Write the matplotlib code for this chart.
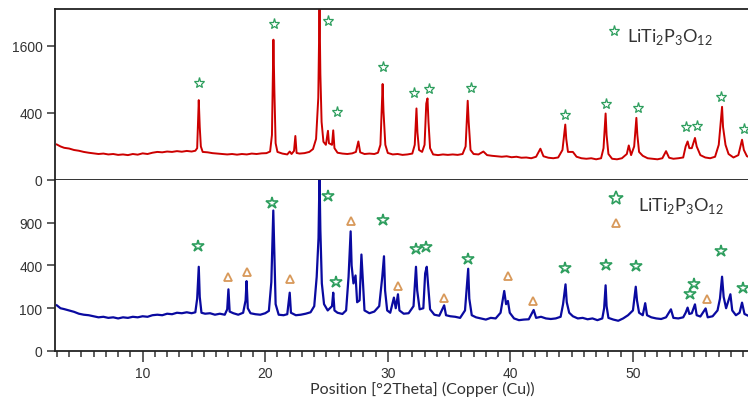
import numpy as np
import matplotlib
matplotlib.use("Agg")
import matplotlib.pyplot as plt
from matplotlib.ticker import MultipleLocator

# top pattern (red), 2theta / counts
top_x = [3.0, 3.3, 3.6, 4.0, 4.4, 4.8, 5.2, 5.6, 6.0, 6.4, 6.8, 7.2, 7.6, 8.0, 8.4, 8.8, 9.2, 9.6,
         10.0, 10.4, 10.8, 11.2, 11.6, 12.0, 12.4, 12.8, 13.2, 13.6, 14.0, 14.3, 14.45, 14.58, 14.66,
         14.75, 14.9, 15.3, 15.7, 16.1, 16.5, 16.9, 17.3, 17.7, 18.1, 18.5, 18.9, 19.3, 19.7, 20.1,
         20.4, 20.55, 20.67, 20.75, 20.85, 21.0, 21.4, 21.8, 22.0, 22.15, 22.35, 22.46, 22.56, 22.8,
         23.2, 23.6, 23.9, 24.15, 24.33, 24.43, 24.5, 24.6, 24.75, 24.95, 25.12, 25.2, 25.45, 25.55,
         25.65, 25.9, 26.3, 26.7, 27.1, 27.4, 27.6, 27.75, 28.1, 28.5, 28.9, 29.2, 29.4, 29.58, 29.65,
         29.8, 30.0, 30.4, 30.8, 31.2, 31.6, 32.0, 32.2, 32.34, 32.42, 32.55, 32.8, 33.0, 33.14, 33.24,
         33.32, 33.45, 33.7, 34.1, 34.5, 34.9, 35.3, 35.7, 36.1, 36.35, 36.52, 36.6, 36.75, 37.0, 37.4,
         37.8, 38.1, 38.5, 38.9, 39.3, 39.7, 40.1, 40.5, 40.9, 41.3, 41.7, 42.1, 42.45, 42.7, 43.1,
         43.5, 43.9, 44.25, 44.48, 44.56, 44.7, 45.1, 45.4, 45.8, 46.2, 46.6, 47.0, 47.4, 47.6, 47.77,
         47.85, 48.0, 48.3, 48.7, 49.1, 49.5, 49.66, 49.85, 50.1, 50.28, 50.36, 50.5, 50.8, 51.2, 51.6,
         52.0, 52.4, 52.7, 52.95, 53.3, 53.7, 54.1, 54.3, 54.46, 54.6, 54.8, 55.06, 55.2, 55.5, 55.9,
         56.3, 56.7, 57.0, 57.27, 57.35, 57.55, 57.8, 58.2, 58.6, 58.9, 59.05, 59.3, 59.6]
top_y = [112, 100, 92, 88, 80, 76, 70, 66, 63, 60, 62, 58, 60, 56, 58, 55, 60, 57,
         63, 60, 66, 70, 68, 72, 70, 74, 71, 75, 72, 76, 90, 567, 250,
         100, 70, 68, 64, 62, 60, 58, 60, 57, 60, 58, 62, 60, 63, 64,
         72, 180, 1750, 700, 120, 70, 62, 58, 72, 60, 75, 172, 65, 62,
         64, 70, 85, 150, 600, 2700, 1000, 300, 130, 110, 215, 120, 110, 219,
         90, 66, 62, 60, 63, 70, 132, 68, 60, 62, 60, 66, 110, 819, 420,
         110, 65, 58, 60, 56, 58, 62, 110, 455, 200, 80, 70, 110, 520, 592,
         300, 90, 58, 55, 58, 56, 58, 56, 60, 100, 558, 300, 80, 60, 58,
         72, 55, 52, 50, 48, 50, 46, 48, 44, 45, 42, 48, 87, 50, 44,
         42, 45, 80, 273, 150, 70, 70, 48, 42, 40, 42, 38, 42, 90, 393,
         180, 60, 40, 38, 42, 60, 106, 55, 100, 343, 180, 70, 52, 42, 40,
         38, 42, 74, 44, 40, 42, 45, 100, 132, 90, 90, 157, 100, 55, 45,
         42, 48, 110, 476, 250, 110, 60, 45, 55, 144, 80, 50, 45]

# bottom pattern (blue)
bot_x = [3.0, 3.3, 3.6, 4.0, 4.4, 4.8, 5.2, 5.6, 6.0, 6.4, 6.8, 7.2, 7.6, 8.0, 8.4, 8.8, 9.2, 9.6,
         10.0, 10.4, 10.8, 11.2, 11.6, 12.0, 12.4, 12.8, 13.2, 13.6, 14.0, 14.3, 14.45, 14.58, 14.66,
         14.8, 15.1, 15.5, 15.9, 16.3, 16.7, 16.9, 17.0, 17.1, 17.4, 17.8, 18.2, 18.4, 18.48, 18.58,
         18.8, 19.2, 19.6, 20.0, 20.3, 20.5, 20.66, 20.75, 20.85, 21.1, 21.5, 21.8, 22.0, 22.1, 22.5,
         22.9, 23.3, 23.7, 24.0, 24.2, 24.35, 24.43, 24.5, 24.62, 24.8, 25.1, 25.45, 25.55, 25.65,
         25.9, 26.3, 26.6, 26.8, 26.97, 27.05, 27.2, 27.37, 27.5, 27.7, 27.85, 27.95, 28.1, 28.5,
         28.9, 29.3, 29.55, 29.69, 29.78, 29.95, 30.2, 30.5, 30.65, 30.83, 30.95, 31.3, 31.7, 32.1,
         32.3, 32.4, 32.6, 32.9, 33.05, 33.18, 33.28, 33.45, 33.8, 34.2, 34.6, 34.75, 35.1, 35.5,
         35.9, 36.3, 36.56, 36.65, 36.85, 37.2, 37.6, 38.0, 38.4, 38.8, 39.2, 39.5, 39.65, 39.8,
         39.95, 40.3, 40.7, 41.1, 41.5, 41.9, 42.1, 42.5, 42.9, 43.3, 43.7, 44.1, 44.3, 44.5, 44.6,
         44.8, 45.1, 45.5, 45.9, 46.3, 46.7, 47.1, 47.5, 47.65, 47.77, 47.85, 48.0, 48.4, 48.8, 49.2,
         49.6, 50.0, 50.23, 50.33, 50.5, 50.8, 51.0, 51.15, 51.5, 51.9, 52.3, 52.7, 53.1, 53.3, 53.7,
         54.1, 54.3, 54.46, 54.6, 54.8, 55.06, 55.2, 55.5, 55.93, 56.1, 56.5, 56.9, 57.1, 57.27,
         57.4, 57.6, 57.95, 58.1, 58.4, 58.7, 58.9, 59.1, 59.4, 59.6]
bot_y = [114, 100, 96, 90, 84, 76, 72, 70, 66, 62, 64, 60, 62, 58, 62, 60, 64, 62,
         66, 64, 70, 72, 70, 76, 74, 80, 78, 82, 78, 82, 150, 388, 160,
         80, 76, 78, 72, 76, 72, 95, 208, 85, 78, 72, 80, 140, 267, 100,
         78, 74, 72, 78, 88, 260, 1080, 500, 120, 72, 70, 74, 186, 80, 70,
         72, 76, 82, 110, 300, 700, 1700, 800, 250, 120, 90, 110, 186, 90,
         80, 75, 90, 300, 783, 400, 250, 312, 130, 140, 509, 300, 90, 78,
         85, 110, 300, 491, 200, 90, 80, 156, 100, 176, 90, 76, 78, 110,
         388, 200, 95, 100, 330, 388, 250, 95, 72, 68, 114, 70, 66, 64,
         60, 90, 370, 150, 70, 62, 58, 54, 60, 58, 80, 197, 120, 137,
         80, 58, 52, 54, 55, 92, 60, 64, 58, 56, 58, 64, 120, 243, 130,
         80, 66, 58, 60, 55, 58, 52, 58, 100, 236, 110, 60, 54, 50, 58,
         70, 90, 226, 140, 80, 70, 125, 70, 62, 58, 56, 62, 95, 60, 58,
         62, 80, 103, 75, 78, 119, 70, 65, 99, 62, 66, 90, 150, 302,
         160, 100, 176, 90, 70, 80, 128, 75, 68, 70]

# phase markers
top_star_x = [14.61, 20.69, 25.14, 25.82, 29.61, 32.13, 33.35, 36.78, 44.42, 47.83, 50.43, 54.3, 55.25, 57.18, 59.1]
top_star_y = [831, 2167, 2251, 405, 1131, 667, 735, 758, 381, 507, 455, 250, 260, 617, 228]
bot_star_x = [14.55, 20.56, 25.11, 25.74, 29.61, 32.28, 33.1, 36.51, 44.48, 47.83, 50.29, 54.65, 54.98, 57.16, 59.0]
bot_star_y = [600, 1206, 1316, 260, 932, 574, 588, 465, 379, 409, 394, 176, 243, 544, 219]
bot_tri_x = [16.98, 18.51, 22.05, 26.96, 30.87, 34.55, 39.84, 41.83, 56.01]
bot_tri_y = [299, 340, 286, 918, 231, 156, 307, 137, 146]

phase_label = r'LiTi$_\mathdefault{2}$P$_\mathdefault{3}$O$_\mathdefault{12}$'
green = '#2e9e5e'
orange = '#d8995a'
tick_col = '#333333'

plt.rcParams['font.family'] = ['Liberation Sans', 'DejaVu Sans']

fig = plt.figure(figsize=(7.48, 4.02), dpi=100)
ax1 = fig.add_axes([0.0735, 0.5498, 0.93, 0.4254])
ax2 = fig.add_axes([0.0735, 0.1244, 0.93, 0.4254])

fwd = lambda v: np.sqrt(np.clip(v, 0, None))
inv = lambda v: np.asarray(v) ** 2

for ax in (ax1, ax2):
    ax.set_yscale('function', functions=(fwd, inv))
    ax.set_xlim(2.85, 59.6)
    ax.spines['right'].set_visible(False)
    for s in ax.spines.values():
        s.set_linewidth(1.3)
        s.set_color('#222222')
    ax.tick_params(axis='y', direction='out', length=6, width=1.1, colors=tick_col,
                   labelsize=10, pad=3)

ax1.plot(top_x, top_y, color='#cc0000', lw=1.4)
ax1.set_ylim(0, 2600)
ax1.set_yticks([0, 400, 1600])
ax1.set_xticks([])
ax1.plot(top_star_x, top_star_y, ls='none', marker='*', ms=8, mfc='none', mec=green, mew=0.9)
ax1.plot([48.48], [1975], ls='none', marker='*', ms=8, mfc='none', mec=green, mew=0.9)
ax1.text(49.5, 1850, phase_label, fontsize=13, family='Lato', color='#333333', va='center')

ax2.plot(bot_x, bot_y, color='#0a0aa0', lw=1.6)
ax2.set_ylim(0, 1600)
ax2.set_yticks([0, 100, 400, 900])
ax2.spines['top'].set_visible(False)
ax2.plot(bot_star_x, bot_star_y, ls='none', marker='*', ms=9, mfc='none', mec=green, mew=1.2)
ax2.plot(bot_tri_x, bot_tri_y, ls='none', marker='^', ms=6, mfc='none', mec=orange, mew=1.3)
ax2.plot([48.65], [1283], ls='none', marker='*', ms=10, mfc='none', mec=green, mew=1.2)
ax2.plot([48.65], [900], ls='none', marker='^', ms=6, mfc='none', mec=orange, mew=1.3)
ax2.text(50.4, 1170, phase_label, fontsize=13, family='Lato', color='#333333', va='center')

ax2.xaxis.set_major_locator(MultipleLocator(10))
ax2.xaxis.set_minor_locator(MultipleLocator(1))
ax2.tick_params(axis='x', which='major', direction='out', length=8, width=1.1,
                colors=tick_col, labelsize=10, pad=3)
ax2.tick_params(axis='x', which='minor', direction='out', length=4, width=1.1, colors=tick_col)

fig.text(0.565, 0.03, 'Position [°2Theta] (Copper (Cu))', fontsize=11.5, family='Lato',
         color='#333333', ha='center', va='center')

fig.savefig('out.png', dpi=100)
